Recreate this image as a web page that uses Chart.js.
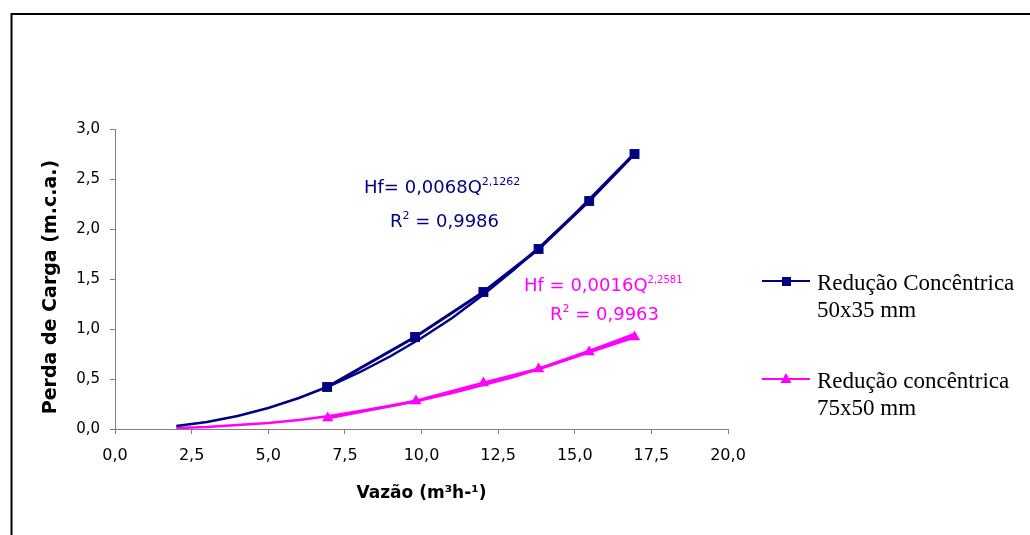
<!DOCTYPE html>
<html>
<head>
<meta charset="utf-8">
<script src="https://cdn.jsdelivr.net/npm/chart.js@4/dist/chart.umd.min.js"></script>
<style>
  html, body { margin: 0; padding: 0; background: #ffffff; }
  #wrap { width: 1030px; height: 535px; }
</style>
</head>
<body>
<div id="wrap"><canvas id="c" width="1030" height="535"></canvas></div>
<script>
// ---- data ----
const flowA = [6.92, 9.79, 12.02, 13.82, 15.47, 16.95];
const lossA = [0.42, 0.92, 1.37, 1.80, 2.28, 2.75];
const flowB = [6.94, 9.82, 12.02, 13.82, 15.47, 16.95];
const lossB = [0.11, 0.28, 0.46, 0.60, 0.77, 0.92];
// fitted (trend) curves as drawn in the picture
const trendQ = [2, 3, 4, 5, 6, 7, 8, 9, 10, 11, 12, 13, 14, 15, 16, 16.95];
const trendA = [0.03, 0.07, 0.13, 0.21, 0.31, 0.43, 0.57, 0.73, 0.91, 1.11, 1.34, 1.59, 1.86, 2.15, 2.46, 2.76];
const trendB = [0.01, 0.02, 0.04, 0.06, 0.09, 0.13, 0.18, 0.23, 0.29, 0.36, 0.44, 0.52, 0.62, 0.73, 0.84, 0.95];
const xTicks = [0, 2.5, 5, 7.5, 10, 12.5, 15, 17.5, 20];
const yTicks = [0, 0.5, 1, 1.5, 2, 2.5, 3];
const seriesNames = [["Redução Concêntrica", "50x35 mm"], ["Redução concêntrica", "75x50 mm"]];
const eqA = { main: "Hf= 0,0068Q", exp: "2,1262", r2: "0,9986" };
const eqB = { main: "Hf = 0,0016Q", exp: "2,2581", r2: "0,9963" };
const xTitle = "Vazão (m³h-¹)";
const yTitle = "Perda de Carga (m.c.a.)";

const NAVY = "#000080";
const MAGENTA = "#ff00ff";

const pts = (xs, ys) => xs.map((x, i) => ({ x: x, y: ys[i] }));

const framePlugin = {
  id: "frame",
  beforeDraw(chart) {
    const ctx = chart.ctx;
    ctx.save();
    ctx.fillStyle = "#ffffff";
    ctx.fillRect(0, 0, chart.width, chart.height);
    ctx.strokeStyle = "#000000";
    ctx.lineWidth = 2;
    ctx.beginPath();
    ctx.moveTo(11.5, chart.height + 2);
    ctx.lineTo(11.5, 14);
    ctx.lineTo(chart.width + 2, 14);
    ctx.stroke();
    ctx.restore();
  }
};

function drawRich(ctx, left, baseline, parts, supSize) {
  let x = left;
  parts.forEach(p => {
    ctx.font = p.sup ? supSize + "px 'DejaVu Sans'" : "18px 'DejaVu Sans'";
    ctx.fillText(p.t, x, baseline - (p.sup ? 8 : 0));
    x += ctx.measureText(p.t).width;
  });
}

const annoPlugin = {
  id: "anno",
  afterDatasetsDraw(chart) {
    const ctx = chart.ctx;
    ctx.save();
    ctx.textBaseline = "alphabetic";
    ctx.textAlign = "left";
    ctx.fillStyle = NAVY;
    drawRich(ctx, 364, 193, [{ t: eqA.main }, { t: eqA.exp, sup: true }], 11);
    drawRich(ctx, 390, 227, [{ t: "R" }, { t: "2", sup: true }, { t: " = " + eqA.r2 }], 11);
    ctx.fillStyle = MAGENTA;
    drawRich(ctx, 524, 291, [{ t: eqB.main }, { t: eqB.exp, sup: true }], 10);
    drawRich(ctx, 550, 320, [{ t: "R" }, { t: "2", sup: true }, { t: " = " + eqB.r2 }], 11);

    // axis titles
    ctx.fillStyle = "#000000";
    ctx.font = "bold 17px 'DejaVu Sans'";
    ctx.textAlign = "center";
    ctx.textBaseline = "middle";
    const ca = chart.chartArea;
    ctx.fillText(xTitle, (ca.left + ca.right) / 2, 494);
    ctx.font = "bold 19px 'DejaVu Sans'";
    ctx.translate(51, 287);
    ctx.rotate(-Math.PI / 2);
    ctx.fillText(yTitle, 0, 0);
    ctx.restore();

    // legend
    ctx.save();
    const rows = [
      { y: 281, color: NAVY, style: "rect", names: seriesNames[0] },
      { y: 379, color: MAGENTA, style: "triangle", names: seriesNames[1] }
    ];
    rows.forEach(r => {
      ctx.strokeStyle = r.color;
      ctx.lineWidth = 2;
      ctx.beginPath();
      ctx.moveTo(762, r.y);
      ctx.lineTo(810, r.y);
      ctx.stroke();
      ctx.fillStyle = r.color;
      if (r.style === "rect") {
        ctx.fillRect(782, r.y - 4, 9, 9);
      } else {
        ctx.beginPath();
        ctx.moveTo(786, r.y - 6);
        ctx.lineTo(791.5, r.y + 4);
        ctx.lineTo(780.5, r.y + 4);
        ctx.closePath();
        ctx.fill();
      }
      ctx.fillStyle = "#000000";
      ctx.font = "23px 'Liberation Serif'";
      ctx.textAlign = "left";
      ctx.textBaseline = "alphabetic";
      ctx.fillText(r.names[0], 817, r.y + 9);
      ctx.fillText(r.names[1], 817, r.y + 36);
    });
    ctx.restore();
  }
};

const fmt = v => Number(v).toFixed(1).replace(".", ",");

new Chart(document.getElementById("c"), {
  type: "scatter",
  data: {
    datasets: [
      { data: pts(trendQ, trendA), showLine: true, borderColor: NAVY, borderWidth: 2.5, pointRadius: 0, tension: 0, order: 3 },
      { data: pts(trendQ, trendB), showLine: true, borderColor: MAGENTA, borderWidth: 2.5, pointRadius: 0, tension: 0, order: 4 },
      { label: seriesNames[0].join(" "), data: pts(flowA, lossA), showLine: true, borderColor: NAVY, backgroundColor: NAVY,
        borderWidth: 3, pointStyle: "rect", pointRadius: 7, pointBorderWidth: 0, tension: 0, order: 1 },
      { label: seriesNames[1].join(" "), data: pts(flowB, lossB), showLine: true, borderColor: MAGENTA, backgroundColor: MAGENTA,
        borderWidth: 3, pointStyle: "triangle", pointRadius: 6.5, pointBorderWidth: 0, tension: 0, order: 2 }
    ]
  },
  options: {
    responsive: false,
    animation: false,
    devicePixelRatio: 1,
    layout: { padding: { left: 0, top: 129, right: 302, bottom: 0 } },
    plugins: { legend: { display: false }, tooltip: { enabled: false }, title: { display: false } },
    scales: {
      x: {
        type: "linear", min: 0, max: 20,
        afterBuildTicks(s) { s.ticks = xTicks.map(v => ({ value: v })); },
        ticks: { callback: fmt, color: "#000000", font: { family: "'DejaVu Sans'", size: 16 }, padding: 12, maxRotation: 0, autoSkip: false },
        grid: { drawOnChartArea: false, drawTicks: true, tickLength: 5, color: "#808080" },
        border: { color: "#808080", width: 1 },
        afterFit(s) { s.height = 106; }
      },
      y: {
        type: "linear", min: 0, max: 3,
        afterBuildTicks(s) { s.ticks = yTicks.map(v => ({ value: v })); },
        ticks: { callback: fmt, color: "#000000", font: { family: "'DejaVu Sans'", size: 15 }, padding: 10, autoSkip: false },
        grid: { drawOnChartArea: false, drawTicks: true, tickLength: 5, color: "#808080" },
        border: { color: "#808080", width: 1 },
        afterFit(s) { s.width = 115; }
      }
    }
  },
  plugins: [framePlugin, annoPlugin]
});
</script>
</body>
</html>
